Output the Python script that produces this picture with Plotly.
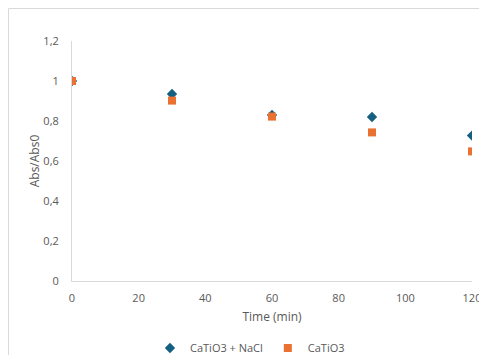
import plotly.graph_objects as go

time_min = [0, 30, 60, 90, 120]
catio3_nacl = [1.0, 0.935, 0.83, 0.82, 0.727]
catio3 = [1.0, 0.902, 0.822, 0.743, 0.648]

font_family = "'Open Sans', sans-serif"
gray = "#595959"

fig = go.Figure()
fig.add_trace(go.Scatter(
    x=time_min, y=catio3_nacl, mode="markers", name="CaTiO3 + NaCl",
    marker=dict(symbol="diamond", size=8, color="#156082"),
))
fig.add_trace(go.Scatter(
    x=time_min, y=catio3, mode="markers", name="CaTiO3",
    marker=dict(symbol="square", size=8, color="#E97132"),
))

fig.update_layout(
    width=479, height=347,
    margin=dict(l=64, r=15, t=33, b=74, autoexpand=False),
    paper_bgcolor="white", plot_bgcolor="white",
    separators=", ",
    font=dict(family=font_family, size=11, color=gray),
    showlegend=True,
    legend=dict(orientation="h", x=0.445, xanchor="center", y=-0.279, yanchor="middle",
                font=dict(size=11, color=gray), itemwidth=30, tracegroupgap=0),
    xaxis=dict(range=[0, 120], dtick=20, showgrid=False, zeroline=False,
               showline=True, linecolor="#d9d9d9", linewidth=1, ticks="",
               automargin=False, ticklabelstandoff=7,
               title=dict(text="Time (min)", font=dict(size=12, color=gray), standoff=8),
               tickfont=dict(size=11, color=gray)),
    yaxis=dict(range=[0, 1.2], dtick=0.2, showgrid=False, zeroline=False,
               showline=True, linecolor="#d9d9d9", linewidth=1, ticks="",
               automargin=False, ticklabelstandoff=10,
               title=dict(text="Abs/Abs0", font=dict(size=12, color=gray), standoff=0),
               tickfont=dict(size=11, color=gray)),
    shapes=[dict(type="rect", xref="paper", yref="paper",
                 x0=-0.1588, x1=1.2, y0=-0.5, y1=1.1354,
                 line=dict(color="#d9d9d9", width=1), layer="below")],
)

fig.write_html("out.html")
